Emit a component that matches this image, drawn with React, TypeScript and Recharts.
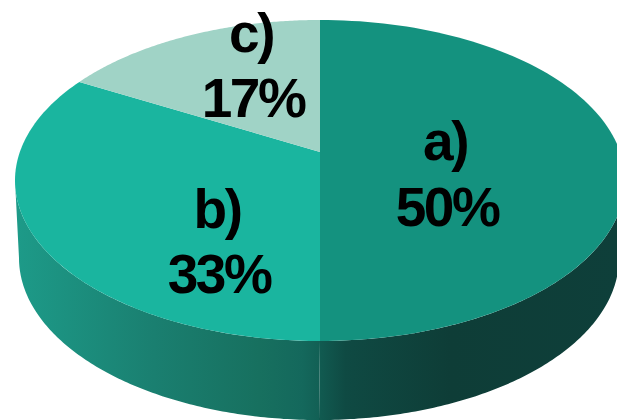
import React from "react";
import { PieChart, Pie } from "recharts";

const categories = ["a)", "b)", "c)"];
const shares = [50, 33, 17];
const topColors = ["#14927f", "#1ab59f", "#a0d3c6"];

const rows = categories.map((name, i) => ({ name, value: shares[i], fill: topColors[i] }));

// Drawing geometry of the tilted disc (not data)
const W = 617, H = 420;
const APEX = { x: 320, y: 152 };
const TOP = { x: 320, y: 180.5, rx: 305, ry: 160.5 };
const BOT = { x: 319, y: 258, rx: 300, ry: 162 };
const K = 0.53;

const WALLS: Record<string, [number, string][]> = {
  "a)": [[0.52, "#115a50"], [0.56, "#0f4a43"], [0.73, "#0e3d37"], [1, "#0e3f3a"]],
  "b)": [[0.03, "#1d9a88"], [0.25, "#1a7f70"], [0.42, "#17705f"], [0.49, "#14685c"], [0.52, "#125f54"]],
  "c)": [[0, "#a0d3c6"], [1, "#a0d3c6"]],
};

const LABELS: Record<string, { x1: number; x2: number; y1: number; y2: number }> = {
  "a)": { x1: 445, x2: 447, y1: 160, y2: 226 },
  "b)": { x1: 217, x2: 219, y1: 228, y2: 293 },
  "c)": { x1: 251, x2: 253, y1: 52, y2: 117 },
};

const rad = (d: number) => (d * Math.PI) / 180;

function rimParam(theta: number) {
  const dx = Math.sin(rad(theta));
  const dy = -K * Math.cos(rad(theta));
  const ax = (APEX.x - TOP.x) / TOP.rx, ay = (APEX.y - TOP.y) / TOP.ry;
  const bx = dx / TOP.rx, by = dy / TOP.ry;
  const a = bx * bx + by * by, b = 2 * (ax * bx + ay * by), c = ax * ax + ay * ay - 1;
  const s = (-b + Math.sqrt(b * b - 4 * a * c)) / (2 * a);
  const x = APEX.x + s * dx, y = APEX.y + s * dy;
  return Math.atan2((y - TOP.y) / TOP.ry, (x - TOP.x) / TOP.rx);
}

const on = (e: typeof TOP, p: number) => `${(e.x + e.rx * Math.cos(p)).toFixed(2)} ${(e.y + e.ry * Math.sin(p)).toFixed(2)}`;

function samples(a: number, b: number) {
  const out: number[] = [];
  const n = 120;
  for (let i = 0; i <= n; i++) out.push(a + ((b - a) * i) / n);
  return out;
}

function DiscSlice(props: any) {
  const { startAngle, endAngle, fill, name, index } = props;
  const label = name ?? categories[index];
  const p0 = rimParam(90 - startAngle);
  let p1 = rimParam(90 - endAngle);
  while (p1 <= p0) p1 += 2 * Math.PI;
  const face = `M ${APEX.x} ${APEX.y} L ` + samples(p0, p1).map((p) => on(TOP, p)).join(" L ") + " Z";
  const a = Math.max(p0, 0), b = Math.min(p1, Math.PI);
  const gid = `wall-${index}`;
  let wall: string | null = null;
  if (b > a) {
    const s = samples(a, b);
    wall = "M " + s.map((p) => on(TOP, p)).join(" L ") + " L " + [...s].reverse().map((p) => on(BOT, p)).join(" L ") + " Z";
  }
  return (
    <g>
      <defs>
        <linearGradient id={gid} gradientUnits="userSpaceOnUse" x1={0} y1={0} x2={W} y2={0}>
          {(WALLS[label] || []).map(([o, c]) => (
            <stop key={o} offset={o} stopColor={c} />
          ))}
        </linearGradient>
      </defs>
      {wall && <path d={wall} fill={`url(#${gid})`} />}
      <path d={face} fill={fill} />
    </g>
  );
}

function SliceLabel(props: any) {
  const { name, value } = props;
  const l = LABELS[name];
  if (!l) return null;
  const style = { fontFamily: "'Liberation Sans', Arial, sans-serif", fontWeight: 700, fontSize: 55, letterSpacing: -2.5, fill: "#000" };
  return (
    <g>
      <text x={l.x1} y={l.y1} textAnchor="middle" style={style}>{name}</text>
      <text x={l.x2} y={l.y2} textAnchor="middle" style={style}>{`${value}%`}</text>
    </g>
  );
}

export default function App() {
  return (
    <div style={{ position: "absolute", left: 0, top: 0, width: W, height: H, overflow: "hidden", background: "#fff" }}>
      <PieChart width={W} height={H} margin={{ top: 0, right: 0, bottom: 0, left: 0 }}>
        <Pie
          data={rows}
          dataKey="value"
          nameKey="name"
          cx={APEX.x}
          cy={APEX.y}
          outerRadius={150}
          startAngle={90}
          endAngle={-270}
          stroke="none"
          isAnimationActive={false}
          shape={DiscSlice}
          label={SliceLabel}
          labelLine={false}
        />
      </PieChart>
    </div>
  );
}
